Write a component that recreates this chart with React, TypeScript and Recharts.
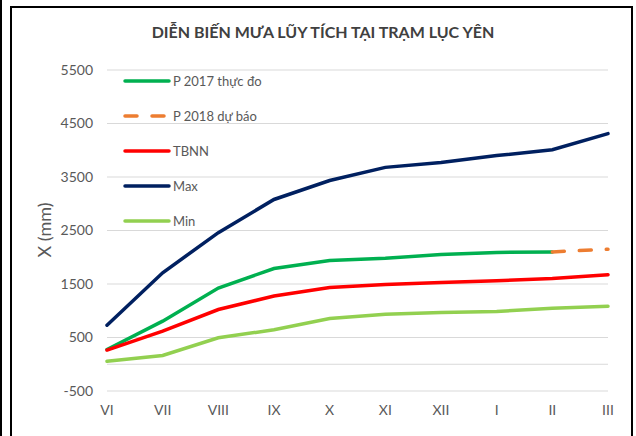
import { LineChart, Line, XAxis, YAxis, CartesianGrid, Legend, ReferenceLine } from 'recharts';

const months = ['VI', 'VII', 'VIII', 'IX', 'X', 'XI', 'XII', 'I', 'II', 'III'];
const p2017 = [275, 805, 1425, 1790, 1940, 1980, 2050, 2090, 2100, null];
const p2018 = [null, null, null, null, null, null, null, null, 2100, 2150];
const tbnn = [265, 620, 1023, 1275, 1435, 1490, 1530, 1560, 1603, 1675];
const maxVals = [730, 1710, 2460, 3080, 3435, 3680, 3770, 3900, 4010, 4310];
const minVals = [57, 165, 494, 645, 855, 936, 967, 988, 1045, 1085];
const yTicks = [-500, 500, 1500, 2500, 3500, 4500, 5500];

const seriesInfo = [
  { key: 'p2017', name: 'P 2017 thực đo', color: '#00B050', dash: undefined as string | undefined },
  { key: 'p2018', name: 'P 2018 dự báo', color: '#ED7D31', dash: '12 15' },
  { key: 'tbnn', name: 'TBNN', color: '#FF0000', dash: undefined },
  { key: 'max', name: 'Max', color: '#002060', dash: undefined },
  { key: 'min', name: 'Min', color: '#92D050', dash: undefined },
];

const data = months.map((m, i) => ({
  month: m,
  p2017: p2017[i],
  p2018: p2018[i],
  tbnn: tbnn[i],
  max: maxVals[i],
  min: minVals[i],
}));

const FONT = 'Lato, "Open Sans", sans-serif';

function LegendBox() {
  return (
    <svg width={160} height={160} style={{ display: 'block' }}>
      {seriesInfo.map((s, i) => {
        const y = 10 + i * 35;
        return (
          <g key={s.key}>
            <line
              x1={2}
              x2={46}
              y1={y}
              y2={y}
              stroke={s.color}
              strokeWidth={3.5}
              strokeDasharray={s.dash}
              strokeLinecap="round"
            />
            <text x={50} y={y} dy="0.35em" fontSize={13} fill="#595959" fontFamily={FONT}>
              {s.name}
            </text>
          </g>
        );
      })}
    </svg>
  );
}

export default function App() {
  return (
    <div style={{ position: 'absolute', left: 0, top: 0, width: 636, height: 436, background: '#fff', overflow: 'hidden' }}>
      <div style={{ position: 'absolute', left: 0, top: 0, width: 2, height: 436, background: '#000' }} />
      <div
        style={{
          position: 'absolute',
          left: 10,
          top: 6,
          width: 619,
          height: 440,
          borderLeft: '2px solid #000',
          borderTop: '2px solid #000',
          borderRight: '2px solid #000',
        }}
      />
      <div
        style={{
          position: 'absolute',
          left: 0,
          top: 22,
          width: 646,
          textAlign: 'center',
          fontFamily: FONT,
          fontWeight: 700,
          fontSize: 16,
          color: '#404040',
        }}
      >
        DIỄN BIẾN MƯA LŨY TÍCH TẠI TRẠM LỤC YÊN
      </div>
      <div style={{ position: 'absolute', left: 0, top: 0 }}>
        <LineChart width={636} height={436} data={data} margin={{ top: 70, right: 28, bottom: 15, left: 0 }}>
          <CartesianGrid vertical={false} stroke="#D9D9D9" />
          <ReferenceLine y={0} stroke="#D9D9D9" />
          <XAxis
            dataKey="month"
            axisLine={false}
            tickLine={false}
            tickMargin={8}
            height={30}
            interval={0}
            tick={{ fill: '#595959', fontSize: 14, fontFamily: FONT }}
          />
          <YAxis
            domain={[-500, 5500]}
            ticks={yTicks}
            axisLine={false}
            tickLine={false}
            tickMargin={8}
            width={107}
            tick={{ fill: '#595959', fontSize: 14, fontFamily: FONT }}
            label={{
              value: 'X (mm)',
              content: () => (
                <text
                  x={45}
                  y={230}
                  transform="rotate(-90 45 230)"
                  textAnchor="middle"
                  dy="0.35em"
                  fontSize={18}
                  fill="#595959"
                  fontFamily={FONT}
                >
                  X (mm)
                </text>
              ),
            }}
          />
          <Legend
            layout="vertical"
            verticalAlign="middle"
            align="center"
            wrapperStyle={{ left: 123, top: 71, width: 160, height: 160 }}
            content={() => <LegendBox />}
          />
          {seriesInfo.map((s) => (
            <Line
              key={s.key}
              type="linear"
              dataKey={s.key}
              name={s.name}
              stroke={s.color}
              strokeWidth={3.5}
              strokeDasharray={s.dash}
              strokeLinecap="round"
              dot={false}
              activeDot={false}
              isAnimationActive={false}
            />
          ))}
        </LineChart>
      </div>
    </div>
  );
}
